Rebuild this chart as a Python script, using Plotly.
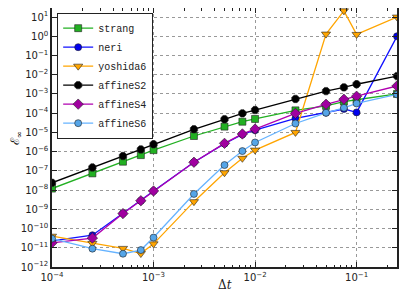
import plotly.graph_objects as go

dt = [1e-4, 2.5e-4, 5e-4, 7.5e-4, 1e-3, 2.5e-3, 5e-3, 7.5e-3, 1e-2, 2.5e-2, 5e-2, 7.5e-2, 1e-1, 2.5e-1]

strang = [1.2e-8, 7.4e-8, 3.0e-7, 6.6e-7, 1.2e-6, 6.5e-6, 2.0e-5, 3.6e-5, 5.0e-5, 1.4e-4, 2.4e-4, 4.0e-4, 5.0e-4, 1.0e-3]
neri = [2.3e-11, 4.5e-11, 6.2e-10, 2.8e-9, 9.0e-9, 2.8e-7, 2.6e-6, 7.8e-6, 1.3e-5, 5.4e-5, 1.05e-4, 1.65e-4, 1.1e-4, 1.0]
yoshida6 = [4.0e-11, 1.7e-11, 9.3e-12, 5.0e-12, 1.6e-11, 2.5e-9, 8.0e-8, 4.5e-7, 1.2e-6, 1.0e-5, 1.3, 21.0, 1.25, 10.0]
affineS2 = [2.4e-8, 1.5e-7, 5.9e-7, 1.3e-6, 2.4e-6, 1.45e-5, 4.8e-5, 9.8e-5, 1.45e-4, 5.5e-4, 1.4e-3, 2.2e-3, 3.2e-3, 8.5e-3]
affineS4 = [1.8e-11, 3.2e-11, 6.0e-10, 2.8e-9, 9.0e-9, 2.8e-7, 2.7e-6, 8.3e-6, 1.5e-5, 9.8e-5, 2.9e-4, 5.3e-4, 7.6e-4, 2.6e-3]
affineS6 = [3.0e-11, 9.0e-12, 4.9e-12, 7.6e-12, 3.4e-11, 6.3e-9, 2.0e-7, 1.07e-6, 3.0e-6, 2.9e-5, 1.05e-4, 1.9e-4, 3.2e-4, 9.5e-4]

x_tickvals = [1e-4, 1e-3, 1e-2, 1e-1]
x_ticktext = ["10<sup>−4</sup>", "10<sup>−3</sup>", "10<sup>−2</sup>", "10<sup>−1</sup>"]
x_minor = [m * 10.0 ** e for e in (-4, -3, -2, -1) for m in range(2, 10) if m * 10.0 ** e <= 0.25]
y_exps = list(range(-12, 2))
y_tickvals = [10.0 ** e for e in y_exps]
y_ticktext = ["10<sup>%s</sup>" % (str(e).replace("-", "−")) for e in y_exps]

series = [
    ("strang", strang, "#22b022", "#22b022", "square", 7),
    ("neri", neri, "#0000ee", "#1010ff", "circle", 7),
    ("yoshida6", yoshida6, "#ffa500", "#ffa500", "triangle-down", 8),
    ("affineS2", affineS2, "#000000", "#000000", "octagon", 8),
    ("affineS4", affineS4, "#a000a0", "#b000b0", "diamond", 8),
    ("affineS6", affineS6, "#55a5e8", "#66b3ff", "circle", 7),
]

fig = go.Figure()
for name, vals, mcol, lcol, sym, size in series:
    fig.add_trace(go.Scatter(
        x=dt, y=vals, name=name, mode="lines+markers",
        line=dict(color=lcol, width=1.3),
        marker=dict(symbol=sym, size=size, color=mcol, line=dict(color="#222222", width=0.6)),
    ))

# invisible trace to carry the minor-tick overlay axis
fig.add_trace(go.Scatter(x=x_minor, y=[None] * len(x_minor), xaxis="x2", yaxis="y",
                         showlegend=False, hoverinfo="skip", mode="markers"))

axis_common = dict(
    type="log", showline=True, linecolor="#222222", linewidth=1.5, mirror="ticks",
    ticks="inside", ticklen=5, tickcolor="#222222",
    showgrid=True, gridcolor="#999999", griddash="dot", gridwidth=1,
    zeroline=False, automargin=False,
    tickfont=dict(family="DejaVu Sans", size=10, color="#222222"),
)

# the page body adds an 8px offset, so the figure is sized to compensate
fig.update_layout(
    xaxis=dict(**axis_common, range=[-4, -0.602], tickvals=x_tickvals, ticktext=x_ticktext),
    xaxis2=dict(type="log", overlaying="x", anchor="y", side="bottom", range=[-4, -0.602],
                tickvals=x_minor, ticks="inside", ticklen=2.5, tickcolor="#222222",
                showticklabels=False, showgrid=False, showline=False, mirror="ticks",
                zeroline=False, automargin=False),
    yaxis=dict(**axis_common, range=[-12, 1.47], tickvals=y_tickvals, ticktext=y_ticktext),
    width=399, height=297,
    margin=dict(l=44, r=10, t=0, b=38),
    paper_bgcolor="white", plot_bgcolor="white",
    showlegend=True,
    legend=dict(
        x=0.015, y=0.982, xanchor="left", yanchor="top",
        bgcolor="white", bordercolor="#222222", borderwidth=1,
        font=dict(family="Liberation Mono", size=10, color="#222222"),
        tracegroupgap=0, itemwidth=30,
    ),
    annotations=[
        dict(text="Δ<i>t</i>", xref="paper", yref="paper", x=0.501, y=-0.069,
             xanchor="center", yanchor="middle", showarrow=False,
             font=dict(family="DejaVu Serif", size=12, color="#222222")),
        dict(text="ℰ<sub>∞</sub>", xref="paper", yref="paper", x=-0.104, y=0.498,
             xanchor="center", yanchor="middle", showarrow=False, textangle=-90,
             font=dict(family="DejaVu Serif", size=12, color="#222222")),
    ],
)

fig.write_html("out.html")
